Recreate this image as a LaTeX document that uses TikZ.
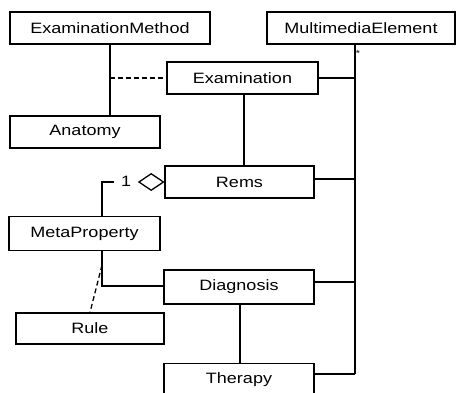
\documentclass[tikz,border=0pt]{standalone}
\usepackage{fontspec}
\setmainfont{Liberation Sans}[FakeStretch=1.2]
\usetikzlibrary{shapes.geometric}
\begin{document}
\begin{tikzpicture}[x=1pt,y=-1pt,
  cls/.style={draw,line width=1.3pt,rectangle,inner sep=0pt,font=\fontsize{15}{18}\selectfont},
  conn/.style={line width=1.3pt},
  dep/.style={line width=1.3pt,dash pattern=on 5pt off 3pt},
  lbl/.style={inner sep=0pt,font=\fontsize{15}{18}\selectfont}]
\useasboundingbox (0,0) rectangle (456,392);
\node[cls,minimum width=200pt,minimum height=32pt] (em) at (110,28) {ExaminationMethod};
\node[cls,minimum width=188pt,minimum height=32pt] (mme) at (361,28) {MultimediaElement};
\node[cls,minimum width=151pt,minimum height=32pt] (exam) at (242.5,78) {Examination};
\node[cls,minimum width=150pt,minimum height=32pt] (anat) at (85,132) {Anatomy};
\node[cls,minimum width=149pt,minimum height=32pt] (rems) at (239.5,182) {Rems};
\node[cls,minimum width=151pt,minimum height=34pt] (meta) at (84.5,233.5) {MetaProperty};
\node[cls,minimum width=150pt,minimum height=34pt] (diag) at (239,287) {Diagnosis};
\node[cls,minimum width=148pt,minimum height=31pt] (rule) at (90,328.5) {Rule};
\node[cls,minimum width=150pt,minimum height=34pt,anchor=north] (ther) at (239,363) {\raisebox{6pt}{Therapy}};
% diamond
\node[draw,diamond,line width=1.3pt,inner sep=0pt,minimum width=25pt,minimum height=17pt,anchor=east] (dia) at (rems.west) {};
% ExaminationMethod - Anatomy
\draw[conn] (em.south) -- (em.south |- anat.north);
\draw[dep] (em.south |- exam.west) -- (exam.west);
% Examination - Rems
\draw[conn] ([xshift=1.5pt]exam.south) -- ([xshift=1.5pt]exam.south |- rems.north);
% bus to MultimediaElement
\coordinate (bus) at ([xshift=-6pt]mme.south);
\coordinate (tc) at ([yshift=-11pt]ther.north east);
\draw[conn] (bus) -- (bus |- tc);
\node[inner sep=0pt,font=\fontsize{9}{9}\selectfont] (star) at ([xshift=3pt,yshift=-9pt]bus) {*};
\draw[conn] (exam.east) -- (exam.east -| bus);
\draw[conn] ([yshift=3pt]rems.east) -- ([yshift=3pt]rems.east -| bus);
\draw[conn] ([yshift=5pt]diag.east) -- ([yshift=5pt]diag.east -| bus);
\draw[conn] (tc) -- (tc -| bus);
% MetaProperty - Rems aggregation
\coordinate (mx) at ([xshift=17.5pt]meta.north);
\coordinate (mend) at ([xshift=-24pt]dia.west);
\draw[conn] (mx) |- (mend);
\node[lbl] (one) at ([xshift=-12pt,yshift=1pt]dia.west) {1};
% MetaProperty - Diagnosis
\draw[conn] (mx |- meta.south) |- ([yshift=1pt]diag.west);
\coordinate (rj) at ([yshift=-14pt]mx |- meta.south);
\draw[dep] (rj) -- (rule.north);
% Diagnosis - Therapy
\draw[conn] ([xshift=1pt]diag.south) -- ([xshift=1pt]diag.south |- ther.north);
\end{tikzpicture}
\end{document}
